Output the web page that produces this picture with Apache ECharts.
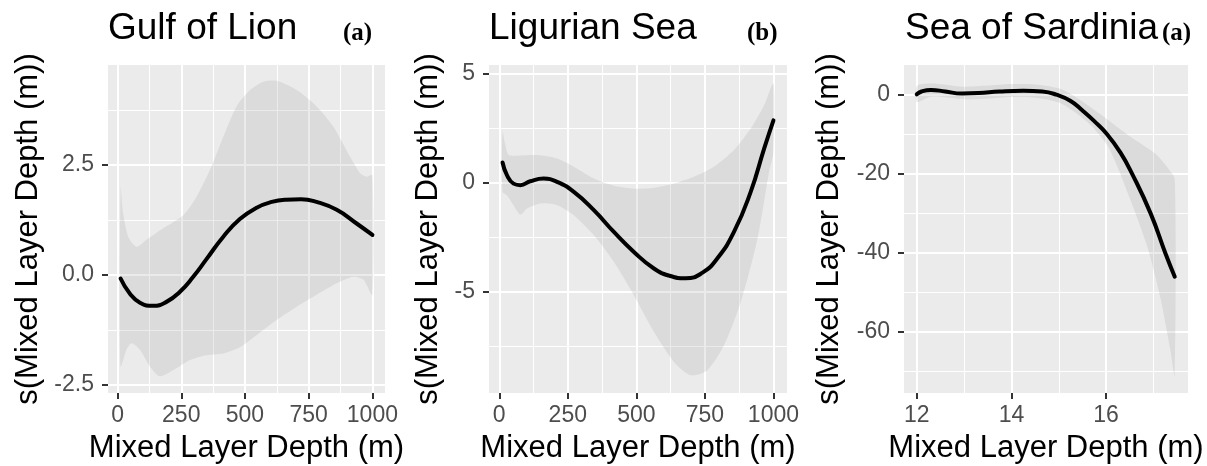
<!DOCTYPE html>
<html>
<head>
<meta charset="utf-8">
<script src="https://cdn.jsdelivr.net/npm/echarts@6/dist/echarts.min.js"></script>
<style>
  html, body { margin: 0; padding: 0; background: #fff; }
  #chart { width: 1207px; height: 466px; }
</style>
</head>
<body>
<div id="chart"></div>
<script>
// smooth fits (x, s(x)) and confidence band edges
const gulfFit = [[12,-0.08],[48,-0.42],[88,-0.63],[140,-0.70],[192,-0.61],[245,-0.38],[297,-0.04],[349,0.36],[415,0.87],[480,1.27],[546,1.53],[605,1.66],[660,1.71],[720,1.72],[781,1.66],[860,1.48],[938,1.17],[1000,0.91]]
const gulfUpper = [[12,2.0],[22,1.40],[42,0.87],[75,0.64],[114,0.80],[179,1.06],[258,1.36],[310,1.78],[363,2.39],[415,3.14],[467,3.83],[520,4.20],[572,4.39],[624,4.41],[703,4.20],[781,3.83],[847,3.37],[912,2.69],[952,2.31],[978,2.23],[1000,2.27]]
const gulfLower = [[12,-2.08],[35,-1.70],[55,-1.55],[88,-1.70],[127,-2.08],[166,-2.30],[219,-2.16],[284,-1.93],[349,-1.82],[415,-1.78],[480,-1.64],[546,-1.36],[624,-1.02],[703,-0.72],[781,-0.45],[860,-0.19],[925,-0.04],[965,-0.11],[1000,-0.45]]

const ligFit = [[12,0.92],[28,0.34],[52,-0.05],[77,-0.12],[113,0.06],[162,0.18],[211,0.03],[272,-0.43],[345,-1.27],[418,-2.27],[491,-3.19],[564,-3.95],[620,-4.28],[680,-4.40],[740,-4.15],[795,-3.49],[856,-2.27],[917,-0.43],[966,1.56],[1000,2.86]]
const ligUpper = [[12,2.33],[22,1.72],[34,1.26],[65,1.23],[138,1.26],[211,1.10],[272,0.72],[345,0.18],[418,-0.15],[491,-0.28],[564,-0.25],[637,-0.05],[710,0.26],[783,0.72],[856,1.49],[917,2.48],[966,3.55],[1000,4.55]]
const ligLower = [[12,-0.43],[28,-0.58],[52,-1.04],[77,-1.47],[101,-1.19],[150,-0.96],[211,-1.04],[272,-1.50],[345,-2.42],[418,-3.64],[491,-5.18],[564,-6.86],[637,-8.24],[698,-8.85],[759,-8.62],[820,-7.47],[881,-5.48],[942,-2.57],[984,0.49],[1000,1.41]]

const sarFit = [[12.0,0.1],[12.1,0.8],[12.3,1.2],[12.6,0.8],[12.95,0.3],[13.3,0.4],[13.75,0.8],[14.25,1.0],[14.65,0.8],[14.95,0],[15.25,-1.6],[15.5,-4.0],[15.75,-6.7],[16.02,-10],[16.3,-14.6],[16.55,-20],[16.94,-30],[17.25,-40],[17.45,-46]]
const sarUpper = [[12.0,2.2],[12.3,2.8],[12.7,2.4],[13.0,2.0],[13.5,2.3],[14.0,2.7],[14.5,2.6],[15.0,1.6],[15.35,-0.5],[15.65,-3.0],[16.0,-6.0],[16.5,-10.5],[17.05,-15.0],[17.3,-18.5],[17.45,-21.4]]
const sarLower = [[12.0,-1.8],[12.3,-0.5],[12.7,-0.8],[13.0,-1.2],[13.5,-1.0],[14.0,-0.6],[14.5,-0.8],[15.0,-2.0],[15.35,-4.5],[15.7,-8.0],[16.06,-13.5],[16.43,-24],[16.86,-38],[17.14,-51],[17.35,-64],[17.45,-71]]

// tick positions
const depthTicks = [0, 250, 500, 750, 1000]
const depthMinor = [125, 375, 625, 875]
const sarXTicks = [12, 14, 16]
const sarXMinor = [13, 15, 17]
const gulfYTicks = [-2.5, 0, 2.5]
const gulfYMinor = [-1.25, 1.25, 3.75]
const ligYTicks = [-5, 0, 5]
const ligYMinor = [-7.5, -2.5, 2.5]
const sarYTicks = [-60, -40, -20, 0]
const sarYMinor = [-70, -50, -30, -10]

const panelTitles = ['Gulf of Lion', 'Ligurian Sea', 'Sea of Sardinia']
const panelTags = ['(a)', '(b)', '(a)']

const FONT = 'Liberation Sans'
const xName = 'Mixed Layer Depth (m)'
const yName = 's(Mixed Layer Depth (m))'

const panels = [
    { left: 108, width: 277, x: [-37.4, 1049.4], y: [-2.68, 4.77], xt: depthTicks, xm: depthMinor, yt: gulfYTicks, ym: gulfYMinor, fmt: v => v.toFixed(1), yGap: 64, fit: gulfFit, up: gulfUpper, lo: gulfLower },
    { left: 489, width: 298, x: [-37.4, 1049.4], y: [-9.67, 5.40], xt: depthTicks, xm: depthMinor, yt: ligYTicks, ym: ligYMinor, fmt: v => String(v), yGap: 45, fit: ligFit, up: ligUpper, lo: ligLower },
    { left: 904, width: 284, x: [11.73, 17.73], y: [-75.4, 7.5], xt: sarXTicks, xm: sarXMinor, yt: sarYTicks, ym: sarYMinor, fmt: v => String(v), yGap: 59, fit: sarFit, up: sarUpper, lo: sarLower }
]

const chart = echarts.init(document.getElementById('chart'), null, { renderer: 'canvas' })

const grid = []
const xAxis = []
const yAxis = []
const series = []

panels.forEach((p, i) => {
    grid.push({
        left: p.left, top: 65, width: p.width, height: 328,
        show: true, backgroundColor: '#EBEBEB', borderWidth: 0,
        outerBoundsMode: 'none', containLabel: false
    })
    // major axis with labels
    xAxis.push({
        type: 'value', gridIndex: i, min: p.x[0], max: p.x[1], position: 'bottom',
        axisLine: { show: false, onZero: false },
        axisTick: { show: true, customValues: p.xt, length: 6, lineStyle: { color: '#333', width: 2 } },
        axisLabel: { customValues: p.xt, color: '#4D4D4D', fontSize: 23, fontFamily: FONT, margin: 11, formatter: v => String(v) },
        splitLine: { show: true, lineStyle: { color: '#fff', width: 2 } },
        name: xName, nameLocation: 'middle', nameGap: 40, nameMoveOverlap: false,
        nameTextStyle: { color: '#000', fontSize: 31, fontFamily: FONT }
    })
    // minor grid lines only
    xAxis.push({
        type: 'value', gridIndex: i, min: p.x[0], max: p.x[1], position: 'bottom',
        axisLine: { show: false, onZero: false },
        axisTick: { show: false, customValues: p.xm },
        axisLabel: { show: false, customValues: p.xm },
        splitLine: { show: true, lineStyle: { color: '#fff', width: 1 } }
    })
    yAxis.push({
        type: 'value', gridIndex: i, min: p.y[0], max: p.y[1], position: 'left',
        axisLine: { show: false, onZero: false },
        axisTick: { show: true, customValues: p.yt, length: 6, lineStyle: { color: '#333', width: 2 } },
        axisLabel: { customValues: p.yt, color: '#4D4D4D', fontSize: 23, fontFamily: FONT, margin: 14, formatter: p.fmt },
        splitLine: { show: true, lineStyle: { color: '#fff', width: 2 } },
        name: yName, nameLocation: 'middle', nameGap: p.yGap, nameRotate: 90, nameMoveOverlap: false,
        nameTextStyle: { color: '#000', fontSize: 31, fontFamily: FONT }
    })
    yAxis.push({
        type: 'value', gridIndex: i, min: p.y[0], max: p.y[1], position: 'left',
        axisLine: { show: false, onZero: false },
        axisTick: { show: false, customValues: p.ym },
        axisLabel: { show: false, customValues: p.ym },
        splitLine: { show: true, lineStyle: { color: '#fff', width: 1 } }
    })

    // confidence band as one polygon through the axis scales
    series.push({
        type: 'custom', xAxisIndex: i * 2, yAxisIndex: i * 2, data: [0], silent: true, z: 2,
        renderItem: (params, api) => {
            const pts = p.up.map(d => api.coord(d)).concat(p.lo.slice().reverse().map(d => api.coord(d)))
            return {
                type: 'polygon',
                shape: { points: pts, smooth: 0.25 },
                style: { fill: 'rgba(153,153,153,0.2)' }
            }
        }
    })
    series.push({
        type: 'line', xAxisIndex: i * 2, yAxisIndex: i * 2, data: p.fit, smooth: true,
        showSymbol: false, silent: true, z: 3,
        lineStyle: { color: '#000', width: 4, cap: 'round' }
    })
})

const titleLefts = [108, 489, 905]
const tagLefts = [343, 747, 1162]
const title = []
panelTitles.forEach((t, i) => {
    title.push({ text: t, left: titleLefts[i], top: 10, padding: 0,
        textStyle: { color: '#000', fontSize: 37, fontWeight: 'normal', fontFamily: FONT } })
    title.push({ text: panelTags[i], left: tagLefts[i], top: 21, padding: 0,
        textStyle: { color: '#000', fontSize: 25, fontWeight: 'bold', fontFamily: 'Liberation Serif' } })
})

chart.setOption({
    backgroundColor: '#fff',
    animation: false,
    title: title,
    grid: grid,
    xAxis: xAxis,
    yAxis: yAxis,
    series: series
})
</script>
</body>
</html>
